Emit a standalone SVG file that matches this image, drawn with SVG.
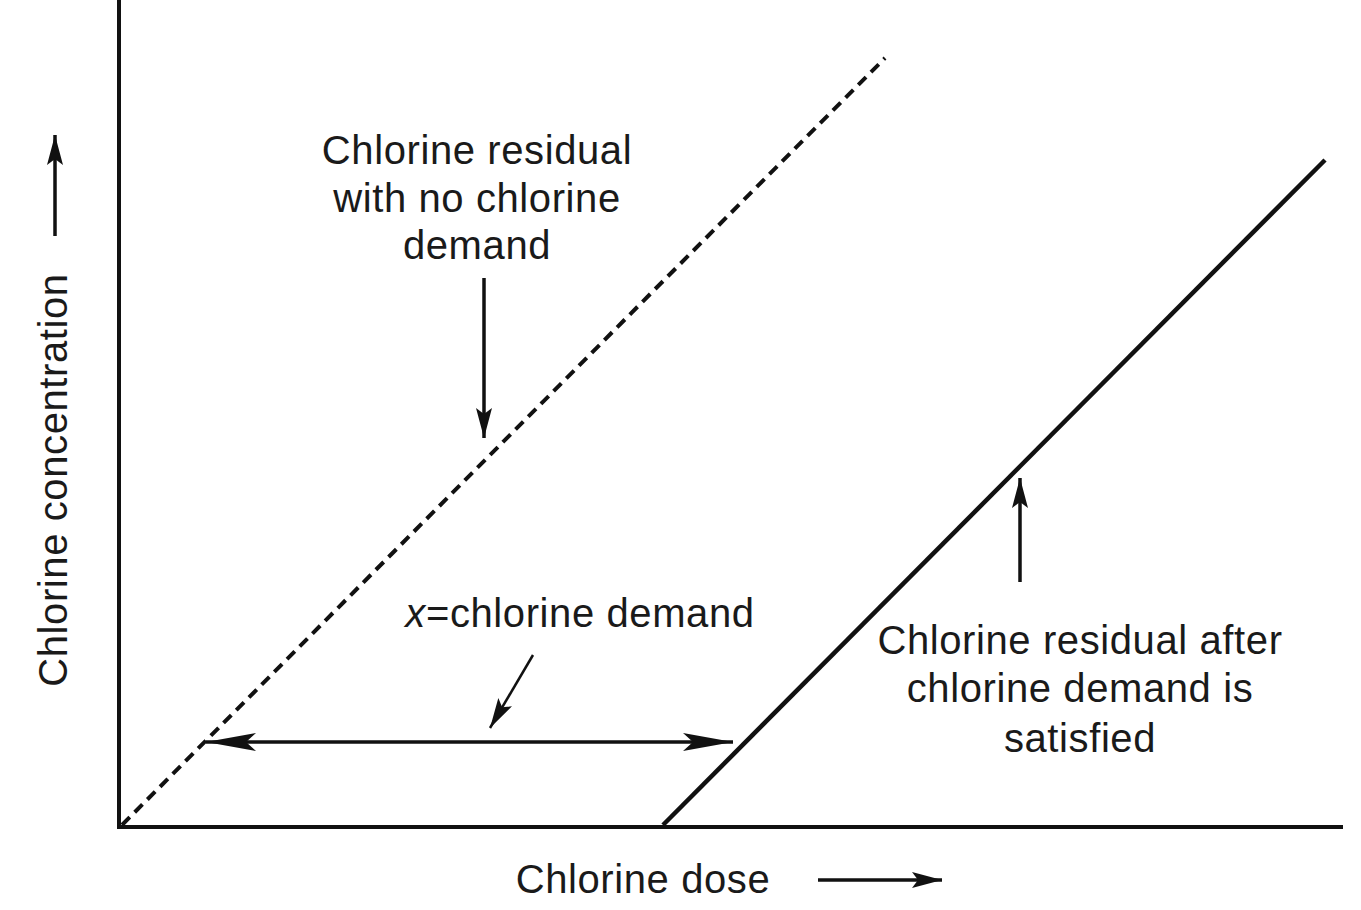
<svg xmlns="http://www.w3.org/2000/svg" width="1361" height="910" viewBox="0 0 1361 910">
<defs>
<style>
text{font-family:"Liberation Sans",Arial,sans-serif;font-size:40px;letter-spacing:0.6px;fill:#1a1a1a}
.l{stroke:#111;fill:none}
</style>
<marker id="ah" viewBox="0 0 50 18" refX="50" refY="9" markerWidth="50" markerHeight="18" markerUnits="userSpaceOnUse" orient="auto-start-reverse"><path d="M0,0 L50,9 L0,18 L10,9 Z" fill="#111"/></marker>
<marker id="as" viewBox="0 0 30 16" refX="30" refY="8" markerWidth="30" markerHeight="16" markerUnits="userSpaceOnUse" orient="auto"><path d="M0,0 L30,8 L0,16 L6,8 Z" fill="#111"/></marker>
</defs>
<rect width="1361" height="910" fill="#fff"/>
<g id="axes">
<path class="l" stroke-width="4" d="M119,0 V827 H1343"/>
</g>
<g id="curves">
<path class="l" stroke-width="4" stroke-dasharray="11,7" d="M122,825 L885,58"/>
<path class="l" stroke-width="4.5" d="M663,825 L1325,160"/>
</g>
<g id="connectors">
<path class="l" stroke-width="3.5" d="M206,742 H733" marker-start="url(#ah)" marker-end="url(#ah)"/>
<path class="l" stroke-width="3.5" d="M484,278 V438" marker-end="url(#as)"/>
<path class="l" stroke-width="3.5" d="M1020,582 V478" marker-end="url(#as)"/>
<path class="l" stroke-width="2.5" d="M533,655 L490,728" marker-end="url(#as)"/>
<path class="l" stroke-width="3.5" d="M55,236 V135" marker-end="url(#as)"/>
<path class="l" stroke-width="3.5" d="M818,880 H942" marker-end="url(#as)"/>
</g>
<g id="labels" text-anchor="middle">
<text x="477" y="164">Chlorine residual</text>
<text x="477" y="212">with no chlorine</text>
<text x="477" y="259">demand</text>
<text x="580" y="627"><tspan font-style="italic">x</tspan>=chlorine demand</text>
<text x="1080" y="654">Chlorine residual after</text>
<text x="1080" y="702">chlorine demand is</text>
<text x="1080" y="752">satisfied</text>
<text x="643" y="893">Chlorine dose</text>
<text transform="translate(67,480) rotate(-90)">Chlorine concentration</text>
</g>
</svg>
